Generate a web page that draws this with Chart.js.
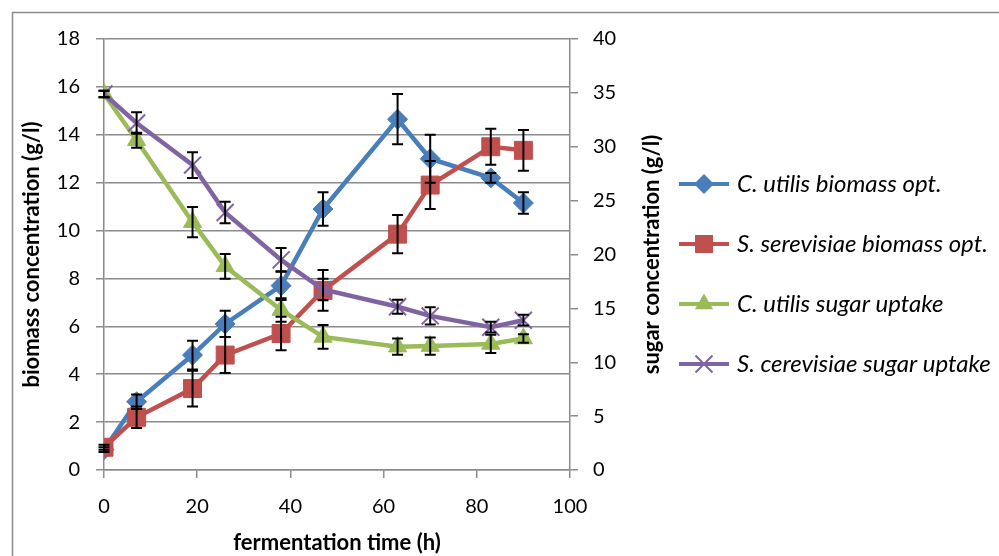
<!DOCTYPE html>
<html>
<head>
<meta charset="utf-8">
<script src="https://cdn.jsdelivr.net/npm/chart.js@4.4.1/dist/chart.umd.min.js"></script>
<style>
  body { margin: 0; background: #fff; }
  #wrap { width: 999px; height: 556px; }
</style>
</head>
<body>
<div id="wrap"><canvas id="chart" width="999" height="556"></canvas></div>
<script>
// fermentation time (h)
var hours = [0, 7, 19, 26, 38, 47, 63, 70, 83, 90];

// biomass (g/l), left axis
var utilisBiomass       = [0.85, 2.85, 4.8, 6.1, 7.7, 10.9, 14.65, 13.0, 12.2, 11.15];
var utilisBiomassErr    = [0.1, 0.3, 0.6, 0.55, 0.6, 0.7, 1.05, 1.0, 0.2, 0.45];
var serevisiaeBiomass    = [0.95, 2.2, 3.4, 4.8, 5.7, 7.5, 9.85, 11.9, 13.5, 13.35];
var serevisiaeBiomassErr = [0.1, 0.45, 0.75, 0.75, 0.7, 0.85, 0.8, 1.0, 0.75, 0.85];

// sugar (g/l), right axis
var utilisSugar        = [34.9, 30.6, 23.0, 18.9, 14.85, 12.35, 11.45, 11.5, 11.7, 12.2];
var utilisSugarErr     = [0.3, 0.7, 1.4, 1.15, 1.1, 1.1, 0.75, 0.8, 0.85, 0.4];
var cerevisiaeSugar    = [34.9, 32.2, 28.3, 23.9, 19.5, 16.75, 15.15, 14.3, 13.25, 13.9];
var cerevisiaeSugarErr = [0.3, 1.0, 1.2, 1.0, 1.1, 1.0, 0.65, 0.8, 0.5, 0.5];

var seriesNames = [
  'C. utilis biomass opt.',
  'S. serevisiae biomass opt.',
  'C. utilis sugar uptake',
  'S. cerevisiae sugar uptake'
];
var xTitle = 'fermentation time (h)';
var leftTitle = 'biomass concentration (g/l)';
var rightTitle = 'sugar concentration (g/l)';

var BLUE = '#4a7ebb', RED = '#c0504d', GREEN = '#9bbb59', PURPLE = '#8064a2';
var GRID = '#8c8c8c';
var FONT = 'Lato, "Noto Sans", sans-serif';

Chart.defaults.font.family = FONT;
Chart.defaults.color = '#000';

function points(vals) {
  return vals.map(function (v, i) { return { x: hours[i], y: v }; });
}

function drawMarker(ctx, style, x, y, r, color) {
  ctx.fillStyle = color;
  ctx.strokeStyle = color;
  ctx.beginPath();
  if (style === 'rectRot') {
    ctx.moveTo(x, y - r); ctx.lineTo(x + r, y); ctx.lineTo(x, y + r); ctx.lineTo(x - r, y);
    ctx.closePath(); ctx.fill();
  } else if (style === 'rect') {
    var s = r * Math.SQRT1_2;
    ctx.rect(x - s, y - s, 2 * s, 2 * s); ctx.fill();
  } else if (style === 'triangle') {
    ctx.moveTo(x, y - r);
    ctx.lineTo(x + r * Math.sin(Math.PI / 3), y + r / 2);
    ctx.lineTo(x - r * Math.sin(Math.PI / 3), y + r / 2);
    ctx.closePath(); ctx.fill();
  } else {
    var d = r * Math.SQRT1_2;
    ctx.lineWidth = 2;
    ctx.moveTo(x - d, y - d); ctx.lineTo(x + d, y + d);
    ctx.moveTo(x + d, y - d); ctx.lineTo(x - d, y + d);
    ctx.stroke();
  }
}

function legendIcon(ds) {
  var c = document.createElement('canvas');
  c.width = 52; c.height = 26;
  var g = c.getContext('2d');
  g.strokeStyle = ds.borderColor;
  g.lineWidth = 4;
  g.beginPath(); g.moveTo(1, 13); g.lineTo(51, 13); g.stroke();
  drawMarker(g, ds.pointStyle, 26, 13, ds.pointRadius, ds.borderColor);
  return c;
}

function series(i, vals, errs, color, style, radius, axis, order) {
  return {
    label: seriesNames[i],
    data: points(vals),
    errors: errs,
    yAxisID: axis,
    borderColor: color,
    backgroundColor: color,
    borderWidth: 4.5,
    pointStyle: style,
    pointRadius: radius,
    pointBorderWidth: style === 'crossRot' ? 2 : 1,
    pointBackgroundColor: color,
    pointBorderColor: color,
    tension: 0,
    order: order
  };
}

var errorBars = {
  id: 'errorBars',
  afterDatasetsDraw: function (chart) {
    var ctx = chart.ctx;
    ctx.save();
    ctx.strokeStyle = '#000';
    ctx.lineWidth = 2;
    chart.data.datasets.forEach(function (ds, i) {
      var meta = chart.getDatasetMeta(i);
      var scale = chart.scales[ds.yAxisID];
      meta.data.forEach(function (pt, j) {
        var v = ds.data[j].y, e = ds.errors[j];
        var top = scale.getPixelForValue(v + e);
        var bot = scale.getPixelForValue(v - e);
        ctx.beginPath();
        ctx.moveTo(pt.x, top); ctx.lineTo(pt.x, bot);
        ctx.moveTo(pt.x - 5.5, top); ctx.lineTo(pt.x + 5.5, top);
        ctx.moveTo(pt.x - 5.5, bot); ctx.lineTo(pt.x + 5.5, bot);
        ctx.stroke();
      });
    });
    ctx.restore();
  }
};

var frame = {
  id: 'frame',
  beforeDraw: function (chart) {
    var ctx = chart.ctx;
    ctx.save();
    ctx.strokeStyle = GRID;
    ctx.lineWidth = 1.5;
    ctx.strokeRect(12.5, 12.5, 1000, 600);
    ctx.restore();
  },
  afterDraw: function (chart) {
    // right-hand axis title reads bottom to top, like the left one
    var s = chart.scales.ySugar;
    var ctx = chart.ctx;
    ctx.save();
    ctx.translate(s.left + 82, (s.top + s.bottom) / 2);
    ctx.rotate(-Math.PI / 2);
    ctx.textAlign = 'center';
    ctx.textBaseline = 'middle';
    ctx.fillStyle = '#000';
    ctx.font = 'bold 22px ' + FONT;
    ctx.fillText(rightTitle, 0, 0);
    ctx.restore();
  }
};

new Chart(document.getElementById('chart'), {
  type: 'line',
  data: {
    datasets: [
      series(0, utilisBiomass, utilisBiomassErr, BLUE, 'rectRot', 10, 'yBio', 3),
      series(1, serevisiaeBiomass, serevisiaeBiomassErr, RED, 'rect', 12.7, 'yBio', 2),
      series(2, utilisSugar, utilisSugarErr, GREEN, 'triangle', 10.5, 'ySugar', 1),
      series(3, cerevisiaeSugar, cerevisiaeSugarErr, PURPLE, 'crossRot', 12, 'ySugar', 0)
    ]
  },
  options: {
    responsive: false,
    animation: false,
    layout: { padding: { top: -8, left: 0, right: 0, bottom: 0 } },
    plugins: {
      tooltip: { enabled: false },
      legend: {
        position: 'right',
        align: 'center',
        maxWidth: 352,
        labels: {
          usePointStyle: true,
          pointStyleWidth: 42,
          padding: 36,
          color: '#000',
          font: { size: 24, style: 'italic' },
          generateLabels: function (chart) {
            return chart.data.datasets.map(function (ds, i) {
              return {
                text: ds.label,
                pointStyle: legendIcon(ds),
                datasetIndex: i,
                fontColor: '#000',
                lineWidth: 0,
                hidden: false
              };
            });
          }
        }
      }
    },
    scales: {
      x: {
        type: 'linear',
        min: 0, max: 100,
        ticks: { stepSize: 20, padding: 17, font: { size: 20 } },
        grid: { display: true, drawOnChartArea: false, color: GRID, lineWidth: 1.5, tickLength: 8 },
        border: { color: GRID, width: 1.5 },
        title: { display: true, text: xTitle, font: { size: 22, weight: 'bold' }, padding: { top: 0, bottom: 0 } },
        afterFit: function (s) { s.height = 86; }
      },
      yBio: {
        position: 'left',
        min: 0, max: 18,
        ticks: { stepSize: 2, padding: 16, font: { size: 20 } },
        grid: { color: GRID, lineWidth: 1.5, tickLength: 8 },
        border: { color: GRID, width: 1.5 },
        title: { display: true, text: leftTitle, font: { size: 22, weight: 'bold' }, padding: { top: 19, bottom: 0 } },
        afterFit: function (s) { s.width = 104; s.paddingTop = 39; }
      },
      ySugar: {
        position: 'right',
        min: 0, max: 40,
        ticks: { stepSize: 5, padding: 15, font: { size: 20 } },
        grid: { drawOnChartArea: false, color: GRID, lineWidth: 1.5, tickLength: 8 },
        border: { color: GRID, width: 1.5 },
        // keep the plot's right edge at x = 570 whatever width the legend takes
        afterFit: function (s) { s.width = 999 - s.chart.legend.width - 570; }
      }
    }
  },
  plugins: [frame, errorBars]
});
</script>
</body>
</html>
